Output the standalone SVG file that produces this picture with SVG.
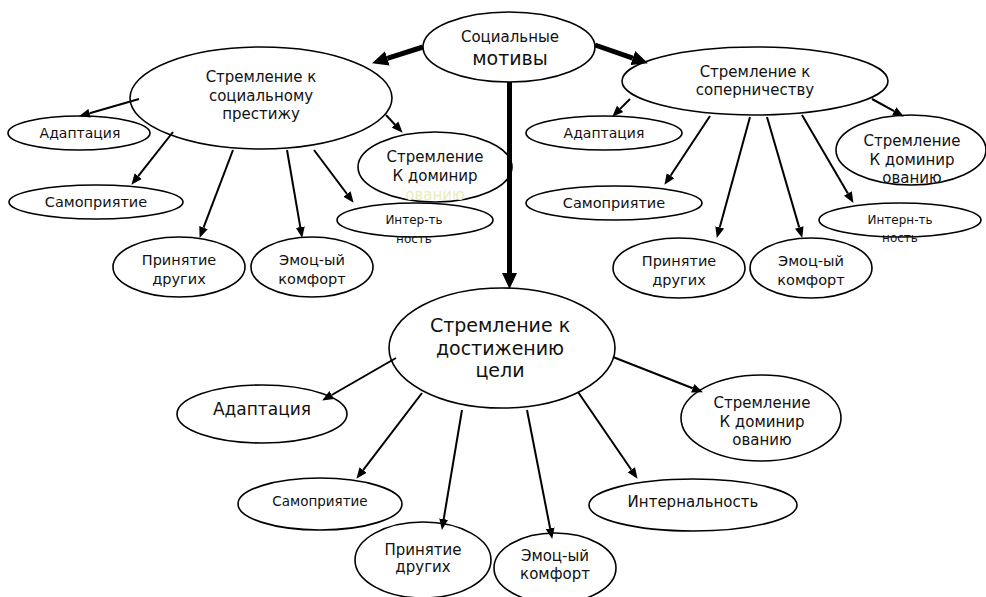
<svg xmlns="http://www.w3.org/2000/svg" width="986" height="597" viewBox="0 0 986 597">
<style>
.n{fill:#fff;stroke:#000;stroke-width:1.6}
text{font-family:"DejaVu Sans","Verdana",sans-serif;fill:#111;text-anchor:middle}
.c{stroke:#000;stroke-width:2;fill:none;marker-end:url(#ah)}
.k{stroke:#000;stroke-width:5;fill:none;marker-end:url(#ahk)}
</style>
<defs>
<marker id="ah" markerUnits="userSpaceOnUse" markerWidth="11" markerHeight="10" refX="0" refY="5" orient="auto"><path d="M0,0.5 L11,5 L0,9.5 z" fill="#000"/></marker>
<marker id="ahk" markerUnits="userSpaceOnUse" markerWidth="16" markerHeight="15" refX="0" refY="7.5" orient="auto"><path d="M0,0 L16,7.5 L0,15 z" fill="#000"/></marker>
</defs>
<rect width="986" height="597" fill="#fff"/>

<g id="top"><ellipse class="n" cx="509" cy="47" rx="86" ry="35"/><text x="510" y="42" font-size="15">Социальные</text><text x="510" y="65" font-size="19">мотивы</text></g>

<g id="left"><ellipse class="n" cx="261" cy="98" rx="131" ry="51"/><text x="261" y="82" font-size="15">Стремление к</text><text x="261" y="101" font-size="15">социальному</text><text x="261" y="119" font-size="15">престижу</text></g>
<g id="l-adapt"><ellipse class="n" cx="79" cy="133" rx="71" ry="17"/><text x="80" y="138" font-size="14">Адаптация</text></g>
<g id="l-self"><ellipse class="n" cx="96" cy="202" rx="87" ry="17"/><text x="96" y="207" font-size="14.5">Самоприятие</text></g>
<g id="l-accept"><ellipse class="n" cx="179" cy="267" rx="66" ry="30"/><text x="179" y="265" font-size="14.5">Принятие</text><text x="179" y="284" font-size="14.5">других</text></g>
<g id="l-emo"><ellipse class="n" cx="312" cy="267" rx="61" ry="30"/><text x="312" y="265" font-size="14.5">Эмоц-ый</text><text x="312" y="284" font-size="14.5">комфорт</text></g>
<g id="l-dom"><ellipse class="n" cx="435" cy="167" rx="77" ry="35"/><text x="435" y="162" font-size="15">Стремление</text><text x="435" y="181" font-size="15">К доминир</text><text x="435" y="200" font-size="15" style="fill:#ecebbd">ованию</text></g>
<g id="l-int"><ellipse class="n" cx="415" cy="220" rx="78" ry="17"/><text x="414" y="224" font-size="12">Интер-ть</text><text x="414" y="243" font-size="12">ность</text></g>

<g id="right"><ellipse class="n" cx="755" cy="81" rx="133" ry="34"/><text x="755" y="77" font-size="15">Стремление к</text><text x="755" y="95" font-size="15">соперничеству</text></g>
<g id="r-adapt"><ellipse class="n" cx="604" cy="133" rx="78" ry="17"/><text x="604" y="138" font-size="14">Адаптация</text></g>
<g id="r-self"><ellipse class="n" cx="614" cy="203" rx="88" ry="17"/><text x="614" y="208" font-size="14.5">Самоприятие</text></g>
<g id="r-accept"><ellipse class="n" cx="679" cy="268" rx="66" ry="30"/><text x="679" y="266" font-size="14.5">Принятие</text><text x="679" y="285" font-size="14.5">других</text></g>
<g id="r-emo"><ellipse class="n" cx="811" cy="268" rx="61" ry="30"/><text x="811" y="266" font-size="14.5">Эмоц-ый</text><text x="811" y="285" font-size="14.5">комфорт</text></g>
<g id="r-dom"><ellipse class="n" cx="911" cy="150" rx="75" ry="35"/><text x="912" y="146" font-size="15">Стремление</text><text x="912" y="165" font-size="15">К доминир</text><text x="912" y="183" font-size="15">ованию</text></g>
<g id="r-int"><ellipse class="n" cx="900" cy="220" rx="81" ry="17"/><text x="900" y="224" font-size="12">Интерн-ть</text><text x="900" y="242" font-size="12">ность</text></g>

<g id="bottom"><ellipse class="n" cx="502" cy="348" rx="113" ry="60"/><text x="500" y="332" font-size="19">Стремление к</text><text x="500" y="355" font-size="19">достижению</text><text x="500" y="377" font-size="19">цели</text></g>
<g id="b-adapt"><ellipse class="n" cx="262" cy="414" rx="85" ry="29"/><text x="262" y="415" font-size="17">Адаптация</text></g>
<g id="b-self"><ellipse class="n" cx="320" cy="504" rx="82" ry="26"/><text x="320" y="506" font-size="13.5">Самоприятие</text></g>
<g id="b-accept"><ellipse class="n" cx="423" cy="560" rx="68" ry="38"/><text x="423" y="555" font-size="15">Принятие</text><text x="423" y="572" font-size="15">других</text></g>
<g id="b-emo"><ellipse class="n" cx="555" cy="568" rx="61" ry="35"/><text x="555" y="561" font-size="15">Эмоц-ый</text><text x="555" y="579" font-size="15">комфорт</text></g>
<g id="b-int"><ellipse class="n" cx="693" cy="505" rx="104" ry="26"/><text x="693" y="507" font-size="15">Интернальность</text></g>
<g id="b-dom"><ellipse class="n" cx="761" cy="418" rx="80" ry="43"/><text x="762" y="408" font-size="15">Стремление</text><text x="762" y="427" font-size="15">К доминир</text><text x="762" y="445" font-size="15">ованию</text></g>

<g id="connectors">
<path class="k" d="M423,47 L387.3,58.4"/>
<path class="k" d="M595,45 L632.8,58.1"/>
<path class="k" d="M509.5,82 L509.5,273" stroke-width="6"/>

<path class="c" d="M139,99 L89.6,113.2"/>
<path class="c" d="M173,132 L138.2,176.1"/>
<path class="c" d="M233,150 L203.5,227.6"/>
<path class="c" d="M287,150 L300.3,227.1"/>
<path class="c" d="M314,150 L347,194"/>
<path class="c" d="M386,115 L395.1,124.7"/>

<path class="c" d="M630,99 L620.1,108.9"/>
<path class="c" d="M710,116 L670.5,175.7"/>
<path class="c" d="M750,117 L719.7,227.4"/>
<path class="c" d="M767,117 L799.2,227.4"/>
<path class="c" d="M802,115 L847.9,193.4"/>
<path class="c" d="M872,99 L894.2,111.2"/>

<path class="c" d="M396,358 L331.7,395"/>
<path class="c" d="M422,393 L363.1,470.1"/>
<path class="c" d="M462,410 L443.7,519.1"/>
<path class="c" d="M527,410 L550.1,528.2"/>
<path class="c" d="M578,392 L631.3,469.7"/>
<path class="c" d="M613,357 L692.7,388.3"/>
</g>
</svg>
